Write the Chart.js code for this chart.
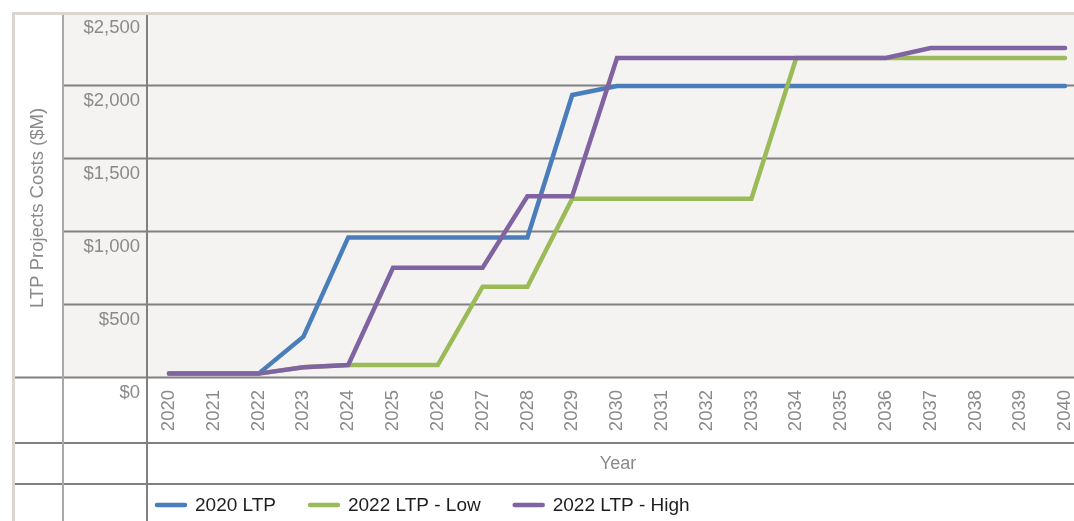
<!DOCTYPE html>
<html>
<head>
<meta charset="utf-8">
<title>LTP Projects Costs</title>
<script src="https://cdn.jsdelivr.net/npm/chart.js@4/dist/chart.umd.min.js"></script>
<style>
  html, body { margin: 0; padding: 0; background: #ffffff; }
  #wrap { width: 1074px; height: 521px; }
</style>
</head>
<body>
<div id="wrap"><canvas id="c" width="1074" height="521"></canvas></div>
<script>
// Years on the horizontal axis
const years = [2020, 2021, 2022, 2023, 2024, 2025, 2026, 2027, 2028, 2029, 2030,
               2031, 2032, 2033, 2034, 2035, 2036, 2037, 2038, 2039, 2040];

// Cumulative LTP project costs, $M
const ltp2020 = [30, 30, 30, 283, 963, 963, 963, 963, 963, 1938, 2000,
                 2000, 2000, 2000, 2000, 2000, 2000, 2000, 2000, 2000, 2000];
const ltp2022Low = [30, 30, 30, 73, 89, 89, 89, 625, 625, 1228, 1228,
                    1228, 1228, 1228, 2192, 2192, 2192, 2192, 2192, 2192, 2192];
const ltp2022High = [30, 30, 30, 73, 89, 755, 755, 755, 1245, 1245, 2192,
                     2192, 2192, 2192, 2192, 2192, 2192, 2260, 2260, 2260, 2260];

const seriesNames = ['2020 LTP', '2022 LTP - Low', '2022 LTP - High'];
const seriesColors = ['#4a7ebb', '#9bbb59', '#8064a2'];

// Value-axis tick marks
const yTicks = [0, 500, 1000, 1500, 2000, 2500];

const FONT = '"Liberation Sans", Arial, Helvetica, sans-serif';
const GRAY_TEXT = '#8a8a8a';
const RULE = '#808080';

const toPoints = vals => years.map((yr, i) => ({ x: yr, y: vals[i] }));

// keep the plot area exactly where the frame expects it
const noAutoPadding = s => {
  s.paddingTop = 0; s.paddingBottom = 0; s.paddingLeft = 0; s.paddingRight = 0;
};

// Table-like frame behind the plot: shaded panel, rules and border
const framePlugin = {
  id: 'frame',
  beforeDraw(chart) {
    const { ctx, chartArea: a, scales: { x, y } } = chart;
    const W = chart.width, H = chart.height;
    const outer = 13.5, col1 = 63, col2 = 147;
    ctx.save();
    ctx.fillStyle = '#ffffff';
    ctx.fillRect(0, 0, W, H);
    ctx.fillStyle = '#f4f3f1';
    ctx.fillRect(col1, a.top, W - col1, a.bottom - a.top);

    ctx.lineWidth = 2;
    ctx.strokeStyle = RULE;
    yTicks.forEach(v => {
      if (v >= y.max) return;
      const py = Math.round(y.getPixelForValue(v)) - 0.5;
      ctx.beginPath();
      ctx.moveTo(v === 0 ? outer : col1, py);
      ctx.lineTo(W, py);
      ctx.stroke();
    });
    // rows below the axis: tick labels / axis title / legend
    [443, x.bottom].forEach(py => {
      ctx.beginPath();
      ctx.moveTo(outer, py);
      ctx.lineTo(W, py);
      ctx.stroke();
    });
    // column rules
    ctx.strokeStyle = '#a8a8a8';
    ctx.beginPath();
    ctx.moveTo(col1, a.top);
    ctx.lineTo(col1, H);
    ctx.stroke();
    ctx.strokeStyle = RULE;
    ctx.beginPath();
    ctx.moveTo(col2, a.top);
    ctx.lineTo(col2, H);
    ctx.stroke();

    // outer border
    ctx.fillStyle = '#dcd5ce';
    ctx.fillRect(12, 12, W - 12, 3);
    ctx.fillRect(12, 12, 3, H - 12);
    ctx.restore();
  },
  afterDraw(chart) {
    const { ctx } = chart;
    ctx.save();
    // axis titles
    ctx.fillStyle = GRAY_TEXT;
    ctx.font = '18.5px ' + FONT;
    ctx.textAlign = 'center';
    ctx.textBaseline = 'middle';
    ctx.save();
    ctx.translate(38, 208);
    ctx.rotate(-Math.PI / 2);
    ctx.fillText('LTP Projects Costs ($M)', 0, 0);
    ctx.restore();
    ctx.font = '18px ' + FONT;
    ctx.fillText('Year', 618, 464);

    // legend
    ctx.font = '19px ' + FONT;
    ctx.textAlign = 'left';
    let lx = 157;
    const ly = 505;
    chart.data.datasets.forEach(ds => {
      ctx.strokeStyle = ds.borderColor;
      ctx.lineWidth = 4.5;
      ctx.lineCap = 'round';
      ctx.beginPath();
      ctx.moveTo(lx, ly);
      ctx.lineTo(lx + 28, ly);
      ctx.stroke();
      const tx = lx + 38;
      ctx.fillStyle = '#1e1e1e';
      ctx.fillText(ds.label, tx, ly + 1);
      lx = tx + ctx.measureText(ds.label).width + 34;
    });
    ctx.restore();
  }
};

const seriesData = [ltp2020, ltp2022Low, ltp2022High];

new Chart(document.getElementById('c'), {
  type: 'line',
  data: {
    datasets: seriesData.map((vals, i) => ({
      label: seriesNames[i],
      data: toPoints(vals),
      borderColor: seriesColors[i],
      backgroundColor: seriesColors[i],
      borderWidth: 4.5,
      pointRadius: 0,
      tension: 0,
      fill: false,
      borderCapStyle: 'round',
      borderJoinStyle: 'miter',
      clip: false,
      order: seriesData.length - i
    }))
  },
  options: {
    responsive: false,
    animation: false,
    devicePixelRatio: 1,
    events: [],
    layout: { autoPadding: false, padding: { top: 13, right: 0, bottom: 37, left: 0 } },
    plugins: { legend: { display: false }, tooltip: { enabled: false } },
    scales: {
      x: {
        type: 'linear',
        min: 2020,
        max: 2040.2,
        grid: { display: false, drawTicks: false },
        border: { display: false },
        afterFit: s => { s.height = 106; noAutoPadding(s); },
        ticks: {
          stepSize: 1,
          includeBounds: false,
          autoSkip: false,
          minRotation: 90,
          maxRotation: 90,
          padding: 12,
          color: GRAY_TEXT,
          font: { family: FONT, size: 18.5 },
          callback: v => String(v)
        }
      },
      y: {
        min: 0,
        max: 2500,
        grid: { display: false, drawTicks: false },
        border: { display: false },
        afterFit: s => { s.width = 169; noAutoPadding(s); },
        afterBuildTicks: s => { s.ticks = yTicks.map(v => ({ value: v })); },
        ticks: {
          padding: 29,
          labelOffset: 15,
          color: GRAY_TEXT,
          font: { family: FONT, size: 18.5 },
          callback: v => '$' + v.toLocaleString('en-US')
        }
      }
    }
  },
  plugins: [framePlugin]
});
</script>
</body>
</html>
